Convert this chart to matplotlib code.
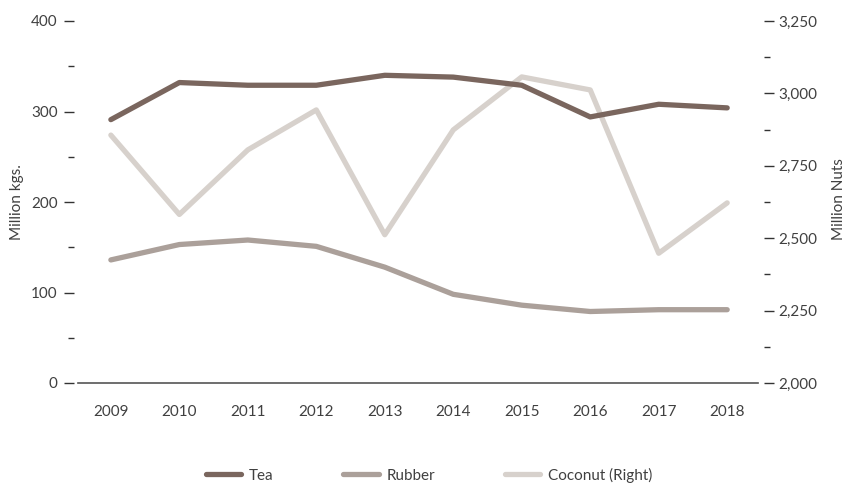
import matplotlib
matplotlib.use("Agg")
import matplotlib.pyplot as plt
from matplotlib.ticker import FuncFormatter, MultipleLocator

years = [2009, 2010, 2011, 2012, 2013, 2014, 2015, 2016, 2017, 2018]
tea = [291, 332, 329, 329, 340, 338, 329, 294, 308, 304]
rubber = [136, 153, 158, 151, 128, 98, 86, 79, 81, 81]
coconut = [2856, 2582, 2805, 2943, 2512, 2874, 3057, 3012, 2448, 2622]

c_tea = "#7a665e"
c_rub = "#aba09a"
c_coc = "#d7d1cc"
txt = "#404040"
fs = 11

plt.rcParams['font.family'] = ['Lato', 'DejaVu Sans']

fig = plt.figure(figsize=(8.48, 4.83), dpi=100)
ax = fig.add_axes([78/848, 1-383/483, 680/848, 362/483])
ax2 = ax.twinx()

l1, = ax.plot(years, tea, color=c_tea, lw=3.8, solid_capstyle='round', solid_joinstyle='round', label='Tea', zorder=3)
l2, = ax.plot(years, rubber, color=c_rub, lw=3.8, solid_capstyle='round', solid_joinstyle='round', label='Rubber', zorder=2)
l3, = ax2.plot(years, coconut, color=c_coc, lw=3.8, solid_capstyle='round', solid_joinstyle='round', label='Coconut (Right)', zorder=1)

ax.set_zorder(ax2.get_zorder() + 1)
ax.patch.set_visible(False)

ax.set_xlim(2008.52, 2018.45)
ax.set_ylim(0, 400)
ax2.set_ylim(2000, 3250)

ax.set_xticks(years)
ax.set_xticklabels([str(y) for y in years])
ax.yaxis.set_major_locator(MultipleLocator(100))
ax.yaxis.set_minor_locator(MultipleLocator(50))
ax2.yaxis.set_major_locator(MultipleLocator(250))
ax2.yaxis.set_minor_locator(MultipleLocator(125))
ax2.yaxis.set_major_formatter(FuncFormatter(lambda v, p: f"{v:,.0f}"))

for a in (ax, ax2):
    for s in ('top', 'left', 'right'):
        a.spines[s].set_visible(False)
ax2.spines['bottom'].set_visible(False)
ax.spines['bottom'].set_color('#555555')
ax.spines['bottom'].set_linewidth(1.2)
ax.spines['left'].set_position(('outward', 3))
ax2.spines['right'].set_position(('outward', 4))

ax.tick_params(axis='x', length=0, pad=16, labelsize=fs, labelcolor=txt)
ax.tick_params(axis='y', which='major', length=7.5, width=1, color='#333333', pad=4, labelsize=fs, labelcolor=txt)
ax.tick_params(axis='y', which='minor', length=4, width=1, color='#333333')
ax2.tick_params(axis='y', which='major', length=7.5, width=1, color='#333333', pad=3, labelsize=fs, labelcolor=txt)
ax2.tick_params(axis='y', which='minor', length=4, width=1, color='#333333')

ax.set_ylabel('Million kgs.', fontsize=fs, color=txt)
ax.yaxis.set_label_coords(-54/680, 0.5)
fig.text(839/848, 1-199/483, 'Million Nuts', rotation=90, ha='center', va='center',
         fontsize=fs, color=txt)

fig.legend(handles=[l1, l2, l3], loc='center', bbox_to_anchor=(0.5 + 5/848, 1-475/483),
           ncol=3, frameon=False, fontsize=fs, handlelength=2.3, columnspacing=4.6,
           handletextpad=0.5, labelcolor=txt)

fig.savefig('out.png', dpi=100)
